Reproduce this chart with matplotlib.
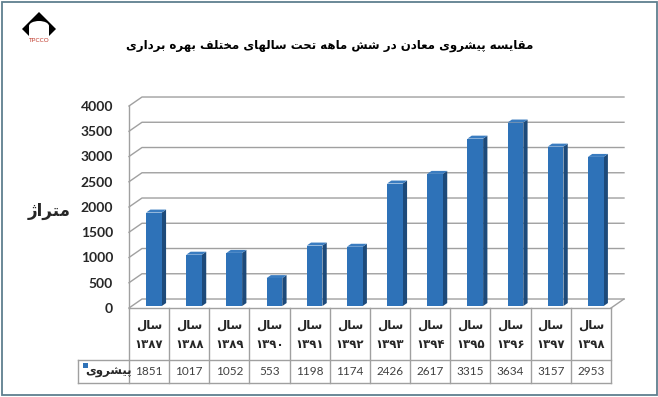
import matplotlib
matplotlib.use("Agg")
import matplotlib.pyplot as plt
from matplotlib.patches import Polygon, Rectangle, Ellipse

# ---- data ----
years = ["۱۳۸۷", "۱۳۸۸", "۱۳۸۹", "۱۳۹۰", "۱۳۹۱", "۱۳۹۲",
         "۱۳۹۳", "۱۳۹۴", "۱۳۹۵", "۱۳۹۶", "۱۳۹۷", "۱۳۹۸"]
progress = [1851, 1017, 1052, 553, 1198, 1174, 2426, 2617, 3315, 3634, 3157, 2953]
yticks = list(range(0, 4001, 500))
title = "مقایسه پیشروی معادن در شش ماهه تحت سالهای مختلف بهره برداری"
ylabel = "متراژ"
series_name = "پیشروی"
year_word = "سال"

# ---- minimal Persian shaping (matplotlib has no shaping / bidi) ----
# farsi yeh: dotless alef maksura forms when isolated/final, yeh forms otherwise
FORMS = {
    "ا": "\uFE8D\uFE8E", "د": "\uFEA9\uFEAA", "ر": "\uFEAD\uFEAE",
    "ز": "\uFEAF\uFEB0", "ژ": "\uFB8A\uFB8B", "و": "\uFEED\uFEEE",
    "ب": "\uFE8F\uFE90\uFE91\uFE92", "پ": "\uFB56\uFB57\uFB58\uFB59",
    "ت": "\uFE95\uFE96\uFE97\uFE98", "ح": "\uFEA1\uFEA2\uFEA3\uFEA4",
    "خ": "\uFEA5\uFEA6\uFEA7\uFEA8", "س": "\uFEB1\uFEB2\uFEB3\uFEB4",
    "ش": "\uFEB5\uFEB6\uFEB7\uFEB8", "ع": "\uFEC9\uFECA\uFECB\uFECC",
    "ف": "\uFED1\uFED2\uFED3\uFED4", "ق": "\uFED5\uFED6\uFED7\uFED8",
    "ل": "\uFEDD\uFEDE\uFEDF\uFEE0", "م": "\uFEE1\uFEE2\uFEE3\uFEE4",
    "ن": "\uFEE5\uFEE6\uFEE7\uFEE8", "ه": "\uFEE9\uFEEA\uFEEB\uFEEC",
    "ی": "\uFEEF\uFEF0\uFEF3\uFEF4",
}


def shape(text):
    out = []
    for k, ch in enumerate(text):
        f = FORMS.get(ch)
        if f is None:
            out.append(ch)
            continue
        prev = text[k - 1] if k > 0 else ""
        nxt = text[k + 1] if k + 1 < len(text) else ""
        jp = prev in FORMS and len(FORMS[prev]) == 4
        jn = len(f) == 4 and nxt in FORMS
        if jp and jn:
            out.append(f[3])
        elif jp:
            out.append(f[1])
        elif jn:
            out.append(f[2])
        else:
            out.append(f[0])
    return "".join(reversed(out))


W, H = 658, 397
FRONT, SIDE, TOP = "#2e72b8", "#1d4a7a", "#3a7cc0"
GRID = "#a0a0a0"
TXT = "#262626"
LAT = ["Lato", "DejaVu Sans"]
AR = ["DejaVu Sans"]

fig = plt.figure(figsize=(W / 100, H / 100), dpi=100)
fig.patch.set_facecolor("white")

# ---- 3D column chart (front plane in data coords, depth as offsets) ----
ax = fig.add_axes([129 / W, 1 - 308 / H, (611 - 129) / W, (308 - 106) / H])
ax.set_xlim(-0.5, 11.5)
ax.set_ylim(0, 4000)
ax.set_facecolor("none")
for s in ax.spines.values():
    s.set_visible(False)
ax.set_xticks([])
ax.set_yticks(yticks)
ax.set_yticklabels([str(v) for v in yticks], family=LAT, fontweight="bold",
                   fontsize=10, color=TXT)
ax.tick_params(axis="y", length=0, pad=11.5)

DX, DY = 0.3234, 178
for v in yticks:
    ax.plot([-0.5, -0.5 + DX, 11.5 + DX], [v, v + DY, v + DY], color=GRID,
            lw=1, clip_on=False, zorder=1)
ax.plot([-0.5, -0.5], [0, 4000], color=GRID, lw=1, clip_on=False, zorder=1)
ax.plot([11.5, 11.5 + DX], [0, DY], color=GRID, lw=1, clip_on=False, zorder=1)

f0, f1 = 0.22, 0.55
bw, c = 0.39, 0.05
for i, v in enumerate(progress):
    xl = i + c - bw / 2 + f0 * DX
    xr = xl + bw
    y0 = f0 * DY
    ddx, ddy = (f1 - f0) * DX, (f1 - f0) * DY
    ax.add_patch(Polygon([(xr, y0), (xr + ddx, y0 + ddy), (xr + ddx, v + y0 + ddy),
                          (xr, v + y0)], closed=True, fc=SIDE, ec="none",
                         zorder=3, clip_on=False))
    ax.add_patch(Polygon([(xl, v + y0), (xr, v + y0), (xr + ddx, v + y0 + ddy),
                          (xl + ddx, v + y0 + ddy)], closed=True, fc=TOP,
                         ec="none", zorder=3, clip_on=False))
    ax.add_patch(Rectangle((xl, y0), bw, v, fc=FRONT, ec="none", zorder=4,
                           clip_on=False))

# ---- data table ----
tax = fig.add_axes([78 / W, 1 - 383 / H, (611 - 78) / W, (383 - 308) / H])
xleft = -0.5 - 51 / 40.2
tax.set_xlim(xleft, 11.5)
tax.set_ylim(383, 308)
tax.axis("off")
tax.plot([-0.5, 11.5], [308, 308], color=GRID, lw=1, clip_on=False)
for y in (360.5, 383):
    tax.plot([xleft, 11.5], [y, y], color=GRID, lw=1, clip_on=False)
for k in range(13):
    tax.plot([k - 0.5, k - 0.5], [308, 383], color=GRID, lw=1, clip_on=False)
tax.plot([xleft, xleft], [360.5, 383], color=GRID, lw=1, clip_on=False)

for i, (yr, v) in enumerate(zip(years, progress)):
    tax.text(i, 325, shape(year_word), ha="center", va="center", family=AR,
             fontweight="bold", fontsize=8.5, color=TXT)
    tax.text(i, 345, yr, ha="center", va="center", family=AR,
             fontweight="bold", fontsize=8.5, color=TXT)
    tax.text(i, 372, str(v), ha="center", va="center", family=LAT,
             fontsize=8.5, color="#404040")

tax.add_patch(Rectangle((-0.5 - 46 / 40.2, 363.5), 5 / 40.2, 5, fc=FRONT,
                        ec="none", clip_on=False))
tax.text(-0.5 - 20 / 40.2, 372, shape(series_name), ha="center", va="center",
         family=AR, fontweight="bold", fontsize=8.5, color=TXT)

# ---- overlay: border, logo, title, axis label ----
oax = fig.add_axes([0, 0, 1, 1])
oax.set_xlim(0, W)
oax.set_ylim(H, 0)
oax.axis("off")
oax.add_patch(Rectangle((1.5, 1.5), W - 3, H - 3.5, fc="none", ec="#5f7f8f",
                        lw=1.3))
oax.add_patch(Polygon([(39, 12), (56, 29), (39, 46), (22, 29)], closed=True,
                      fc="black", ec="none"))
oax.add_patch(Rectangle((29, 26), 20, 22, fc="white", ec="none"))
oax.add_patch(Ellipse((39, 26), 20, 10, fc="white", ec="none"))
oax.text(39, 41, "TPCCO", ha="center", va="center", fontsize=4.5,
         color="#c0392b", family=LAT)

oax.text(330, 46, shape(title), ha="center", va="center", family=AR,
         fontweight="bold", fontsize=8.5, color="black")
oax.text(49, 211, shape(ylabel), ha="center", va="center", family=AR,
         fontweight="bold", fontsize=12, color=TXT)

fig.savefig("out.png", dpi=100)
